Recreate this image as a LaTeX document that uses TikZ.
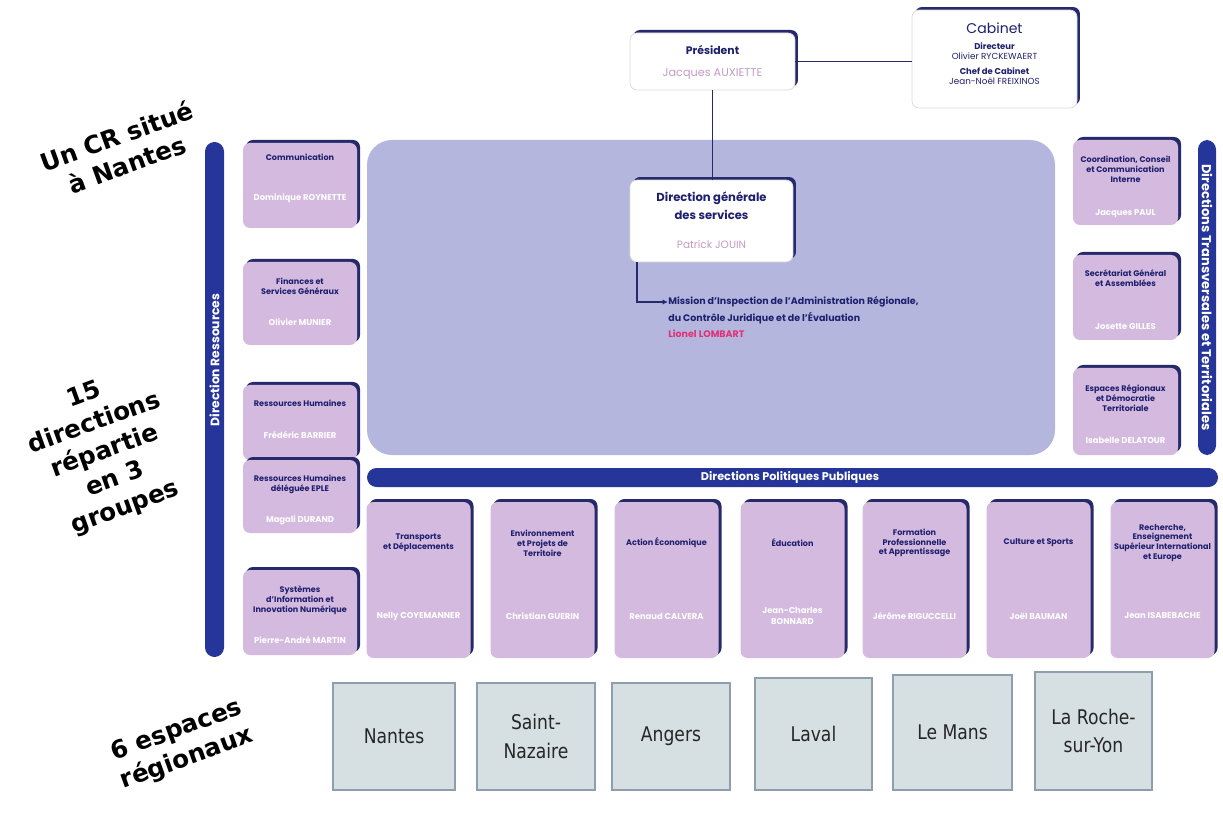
\documentclass[tikz,border=0pt]{standalone}
\usepackage{fontspec}
\setmainfont{Poppins}
\newfontfamily\notefont{DejaVu Sans}
\newfontfamily\regfont[FakeStretch=0.85]{DejaVu Sans}
\usetikzlibrary{shadows, arrows.meta, positioning}

\definecolor{barblue}{HTML}{26359A}
\definecolor{shadenavy}{HTML}{262A6B}
\definecolor{panelblue}{HTML}{B4B6DE}
\definecolor{boxpink}{HTML}{D4BADF}
\definecolor{titlenavy}{HTML}{1E206E}
\definecolor{namepink}{HTML}{C49BC4}
\definecolor{missionpink}{HTML}{E0307A}
\definecolor{regfill}{HTML}{D6E0E2}
\definecolor{regline}{HTML}{8E9EAC}

\begin{document}
\begin{tikzpicture}[x=0.02cm, y=-0.02cm,
  shade/.style={drop shadow={shadow xshift=0.06cm, shadow yshift=0.06cm, opacity=1, fill=shadenavy}},
  pinkbox/.style={fill=boxpink, rounded corners=0.14cm, shade},
  whitebox/.style={fill=white, draw=black!15, rounded corners=0.14cm, shade, inner sep=0pt},
  ttl/.style={font=\bfseries\fontsize{4.6}{5.6}\selectfont, text=titlenavy, align=center, inner sep=0pt},
  nm/.style={font=\bfseries\fontsize{4.8}{5.8}\selectfont, text=white, align=center, inner sep=0pt},
  bar/.style={fill=barblue, rounded corners=0.19cm},
  bartxt/.style={font=\bfseries\fontsize{6.4}{7}\selectfont, text=white, inner sep=0pt},
  link/.style={draw=shadenavy, line width=1.1pt},
  note/.style={font=\notefont\bfseries\fontsize{14}{17}\selectfont, align=center, rotate=20},
  reg/.style={fill=regfill, draw=regline, line width=0.6pt},
  regtxt/.style={font=\regfont\fontsize{11.5}{16}\selectfont, text=black!85, align=center, inner sep=0pt}]

\useasboundingbox (0,0) rectangle (1223,820);

% left notes
\node [note] (noteCR)  at (122,150) {Un CR situé\\à Nantes};
\node [note] (noteDir) at (105,452) {15\\directions\\répartie\\en 3\\groupes};
\node [note] (noteEsp) at (182,745) {6 espaces\\régionaux};

% top of the chart
\fill [panelblue, rounded corners=0.5cm] (367,140) rectangle (1055,455);

\node [whitebox, minimum width=3.30cm, minimum height=1.14cm] (pres) at (712.5,61.5) {};
\node [ttl, font=\bfseries\fontsize{6.2}{7}\selectfont] (presT) at (712.5,50) {Président};
\node [font=\fontsize{6.4}{7}\selectfont, text=namepink, inner sep=0pt] (presN) at (712.5,74) {Jacques AUXIETTE};

\node [whitebox, minimum width=3.30cm, minimum height=1.96cm] (cab) at (994.5,59) {};
\node [font=\fontsize{8}{9}\selectfont, text=titlenavy, inner sep=0pt] (cabT) at (994.5,28) {Cabinet};
\node [ttl, font=\bfseries\fontsize{4.8}{5.6}\selectfont] (cabD) at (994.5,46) {Directeur};
\node [ttl, font=\fontsize{5}{5.6}\selectfont] (cabDN) at (994.5,56) {Olivier RYCKEWAERT};
\node [ttl, font=\bfseries\fontsize{4.8}{5.6}\selectfont] (cabC) at (994.5,71) {Chef de Cabinet};
\node [ttl, font=\fontsize{5}{5.6}\selectfont] (cabCN) at (994.5,81) {Jean-Noël FREIXINOS};

\node [whitebox, minimum width=3.26cm, minimum height=1.64cm] (dgs) at (711.5,221) {};
\node [ttl, font=\bfseries\fontsize{6.6}{10}\selectfont] (dgsT) at (711.5,206) {Direction générale\\des services};
\node [font=\fontsize{6}{7}\selectfont, text=namepink, inner sep=0pt] (dgsN) at (711.5,245) {Patrick JOUIN};

\draw [link] (pres.east) -- (pres.east -| cab.west);
\draw [link] (pres.south) -- (pres.south |- dgs.north);

\node [ttl, font=\bfseries\fontsize{5.4}{6}\selectfont, anchor=west] (misA) at (668,302) {Mission d'Inspection de l'Administration Régionale,};
\node [ttl, font=\bfseries\fontsize{5.4}{6}\selectfont, anchor=west] (misB) at (668,318) {du Contrôle Juridique et de l'Évaluation};
\node [ttl, font=\bfseries\fontsize{5.4}{6}\selectfont, text=missionpink, anchor=west] (misC) at (668,334) {Lionel LOMBART};
\coordinate (dgsfoot) at (637,262);
\draw [link, -{Latex[length=3pt,width=3pt]}] (dgsfoot) |- (misA.west);

% Direction Ressources
\fill [bar] (205,142) rectangle (224,657);
\node [bartxt, rotate=90, font=\bfseries\fontsize{7}{8}\selectfont] (resT) at (214.5,360) {Direction Ressources};

\fill [pinkbox] (243,143) rectangle (357,228);
\node [ttl] (comT) at (300,157) {Communication};
\node [nm]  (comN) at (300,198) {Dominique ROYNETTE};

\fill [pinkbox] (243,262) rectangle (357,345);
\node [ttl] (finT) at (300,286) {Finances et\\Services Généraux};
\node [nm]  (finN) at (300,322) {Olivier MUNIER};

\fill [pinkbox] (243,385) rectangle (357,460);
\node [ttl] (rhT) at (300,403) {Ressources Humaines};
\node [nm]  (rhN) at (300,435) {Frédéric BARRIER};

\fill [pinkbox] (243,460) rectangle (357,533);
\node [ttl] (epleT) at (300,484) {Ressources Humaines\\déléguée EPLE};
\node [nm]  (epleN) at (300,520) {Magali DURAND};

\fill [pinkbox] (243,570) rectangle (357,655);
\node [ttl] (siT) at (300,600) {Systèmes\\d'Information et\\Innovation Numérique};
\node [nm]  (siN) at (300,640) {Pierre-André MARTIN};

% Directions Transversales et Territoriales
\fill [bar] (1198,140) rectangle (1216,455);
\node [bartxt, rotate=-90, font=\bfseries\fontsize{7.4}{8}\selectfont] (traT) at (1207,297.5) {Directions Transversales et Territoriales};

\fill [pinkbox] (1073,140) rectangle (1178,225);
\node [ttl] (ccT) at (1125.5,169) {Coordination, Conseil\\et Communication\\Interne};
\node [nm]  (ccN) at (1125.5,214) {Jacques PAUL};

\fill [pinkbox] (1073,255) rectangle (1178,340);
\node [ttl] (sgT) at (1125.5,278) {Secrétariat Général\\et Assemblées};
\node [nm]  (sgN) at (1125.5,327) {Josette GILLES};

\fill [pinkbox] (1073,368) rectangle (1178,455);
\node [ttl] (erT) at (1125.5,398) {Espaces Régionaux\\et Démocratie\\Territoriale};
\node [nm]  (erN) at (1125.5,440) {Isabelle DELATOUR};

% Directions Politiques Publiques
\fill [bar] (367,468) rectangle (1218,487);
\node [bartxt] (polT) at (790,477.5) {Directions Politiques Publiques};

\foreach \cx/\ttlx/\nmx/\id in {
    418.5/{Transports\\et Déplacements}/{Nelly COYEMANNER}/tra,
    542.5/{Environnement\\et Projets de\\Territoire}/{Christian GUERIN}/env,
    666.5/{Action Économique}/{Renaud CALVERA}/eco,
    792.5/{Éducation}/{Jean-Charles\\BONNARD}/edu,
    914.5/{Formation\\Professionnelle\\et Apprentissage}/{Jérôme RIGUCCELLI}/for,
    1038.5/{Culture et Sports}/{Joël BAUMAN}/cul,
    1162.5/{Recherche,\\Enseignement\\Supérieur International\\et Europe}/{Jean ISABEBACHE}/rec}
{
  \fill [pinkbox] (\cx-52,502) rectangle (\cx+52,658);
  \node [ttl] (\id T) at (\cx,543) {\ttlx};
  \node [nm]  (\id N) at (\cx,616) {\nmx};
}

% espaces regionaux
\foreach \xa/\xb/\ya/\lbl/\id in {
    333/455/683/{Nantes}/nan,
    477/595/683/{Saint-\\Nazaire}/stn,
    612/730/683/{Angers}/ang,
    755/872/678/{Laval}/lav,
    893/1012/675/{Le Mans}/lem,
    1035/1152/672/{La Roche-\\sur-Yon}/lry}
  \draw [reg] (\xa,\ya) rectangle (\xb,790) node [regtxt, midway] (\id) {\lbl};

\end{tikzpicture}
\end{document}
